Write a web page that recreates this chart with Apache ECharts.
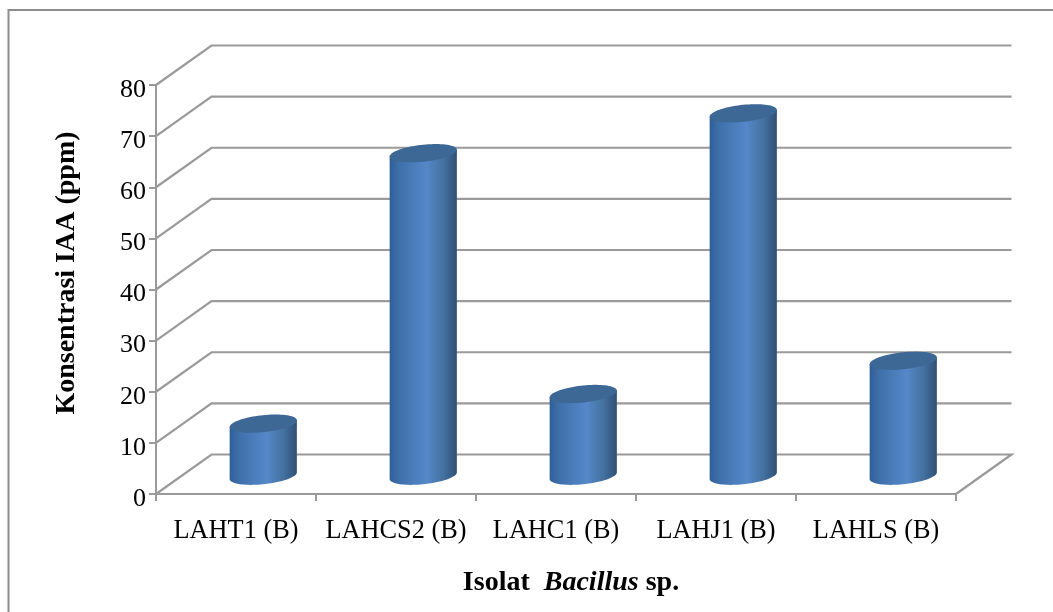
<!DOCTYPE html>
<html>
<head>
<meta charset="utf-8">
<style>
  html, body { margin: 0; padding: 0; background: #fff; }
  #chart { width: 1053px; height: 612px; }
</style>
</head>
<body>
<div id="chart"></div>
<script src="https://cdn.jsdelivr.net/npm/echarts@6/dist/echarts.min.js"></script>
<script>
const categories = ["LAHT1 (B)", "LAHCS2 (B)", "LAHC1 (B)", "LAHJ1 (B)", "LAHLS (B)"];
const konsentrasi = [9.9, 62.8, 15.7, 70.6, 22.2];
const yTicks = [0, 10, 20, 30, 40, 50, 60, 70, 80];

const SERIF = '"Liberation Serif", serif';
// depth of the fake 3D box
const DEPTH_X = 55.5;
const DEPTH_Y = -39.5;
const LINE = "#9a9a9a";

// tilted ellipse, sheared like the projected base of a cylinder
function ellipsePoint(cx, cy, rx, ry, t) {
  const dx = rx * Math.cos(t);
  return [cx + dx, cy + ry * Math.sin(t) - dx * 0.1];
}

function renderWall(params, api) {
  const v = api.value(0);
  const box = params.coordSys;
  const y = api.coord([0, v])[1];
  const x0 = box.x;
  const x1 = box.x + box.width;
  let points = [[x0, y], [x0 + DEPTH_X, y + DEPTH_Y], [x1 + DEPTH_X, y + DEPTH_Y]];
  // the floor closes back to the front right corner
  if (v === 0) points.push([x1, y]);
  return {
    type: "polyline",
    shape: { points: points },
    style: { stroke: LINE, lineWidth: 2.2, fill: null }
  };
}

function renderCylinder(params, api) {
  const p = api.coord([api.value(0), api.value(1)]);
  const base = api.coord([api.value(0), 0]);
  const rx = api.size([1, 0])[0] * 0.21;
  const ry = 8.5;
  const cx = p[0] + DEPTH_X / 2 - 0.5;
  const topY = p[1] + DEPTH_Y / 2;
  const botY = base[1] + DEPTH_Y / 2 + 1.5;

  let body = [];
  for (let i = 0; i <= 40; i++) {
    // lower half of the base, right to left
    body.push(ellipsePoint(cx, botY, rx, ry, Math.PI * i / 40));
  }
  body.push(ellipsePoint(cx, topY, rx, ry, Math.PI));
  body.push(ellipsePoint(cx, topY, rx, ry, 0));

  let lid = [];
  for (let i = 0; i < 80; i++) {
    lid.push(ellipsePoint(cx, topY, rx, ry, Math.PI * 2 * i / 80));
  }

  return {
    type: "group",
    children: [
      {
        type: "polygon",
        shape: { points: body },
        style: {
          fill: new echarts.graphic.LinearGradient(0, 0, 1, 0, [
            { offset: 0, color: "#2f5f96" },
            { offset: 0.15, color: "#3f70aa" },
            { offset: 0.55, color: "#5588c9" },
            { offset: 0.8, color: "#44719f" },
            { offset: 1, color: "#2f5078" }
          ])
        }
      },
      {
        type: "polygon",
        shape: { points: lid },
        style: { fill: "#3d6795" }
      }
    ]
  };
}

const chart = echarts.init(document.getElementById("chart"));
chart.setOption({
  animation: false,
  backgroundColor: "#fff",
  grid: { left: 156, right: 97, top: 85, bottom: 118 },
  graphic: [
    {
      type: "polyline",
      shape: { points: [[8.5, 612], [8.5, 10], [1053, 10]] },
      style: { stroke: "#8c8c8c", lineWidth: 2, fill: null },
      silent: true
    }
  ],
  xAxis: {
    type: "category",
    data: categories,
    name: "{b|Isolat  }{i|Bacillus}{b| sp.}",
    nameLocation: "middle",
    nameGap: 75,
    nameTextStyle: {
      padding: [0, 0, 0, 30],
      rich: {
        b: { fontFamily: SERIF, fontSize: 28, fontWeight: "bold", color: "#000" },
        i: { fontFamily: SERIF, fontSize: 28, fontWeight: "bold", fontStyle: "italic", color: "#000" }
      }
    },
    axisLine: { lineStyle: { color: LINE, width: 2 } },
    axisTick: { show: true, length: 7, alignWithLabel: false, lineStyle: { color: LINE, width: 2 } },
    axisLabel: { fontFamily: SERIF, fontSize: 26.3, color: "#000", margin: 24, interval: 0 },
    splitLine: { show: false }
  },
  yAxis: {
    type: "value",
    min: 0,
    max: 80,
    interval: 10,
    name: "Konsentrasi IAA (ppm)",
    nameLocation: "middle",
    nameRotate: 90,
    nameGap: 75,
    nameTextStyle: { fontFamily: SERIF, fontSize: 28, fontWeight: "bold", color: "#000", padding: [0, 0, 0, 33] },
    axisLine: { show: true, lineStyle: { color: LINE, width: 2 } },
    axisTick: { show: true, length: 7, lineStyle: { color: LINE, width: 2 } },
    axisLabel: { fontFamily: SERIF, fontSize: 26, color: "#000", margin: 10, verticalAlign: "top", lineHeight: 10 },
    splitLine: { show: false }
  },
  series: [
    {
      type: "custom",
      silent: true,
      clip: false,
      z: 1,
      renderItem: renderWall,
      data: yTicks.map(v => [v]),
      encode: { y: 0 }
    },
    {
      type: "custom",
      clip: false,
      z: 2,
      renderItem: renderCylinder,
      data: konsentrasi.map((v, i) => [i, v]),
      encode: { x: 0, y: 1 }
    }
  ]
});
</script>
</body>
</html>
